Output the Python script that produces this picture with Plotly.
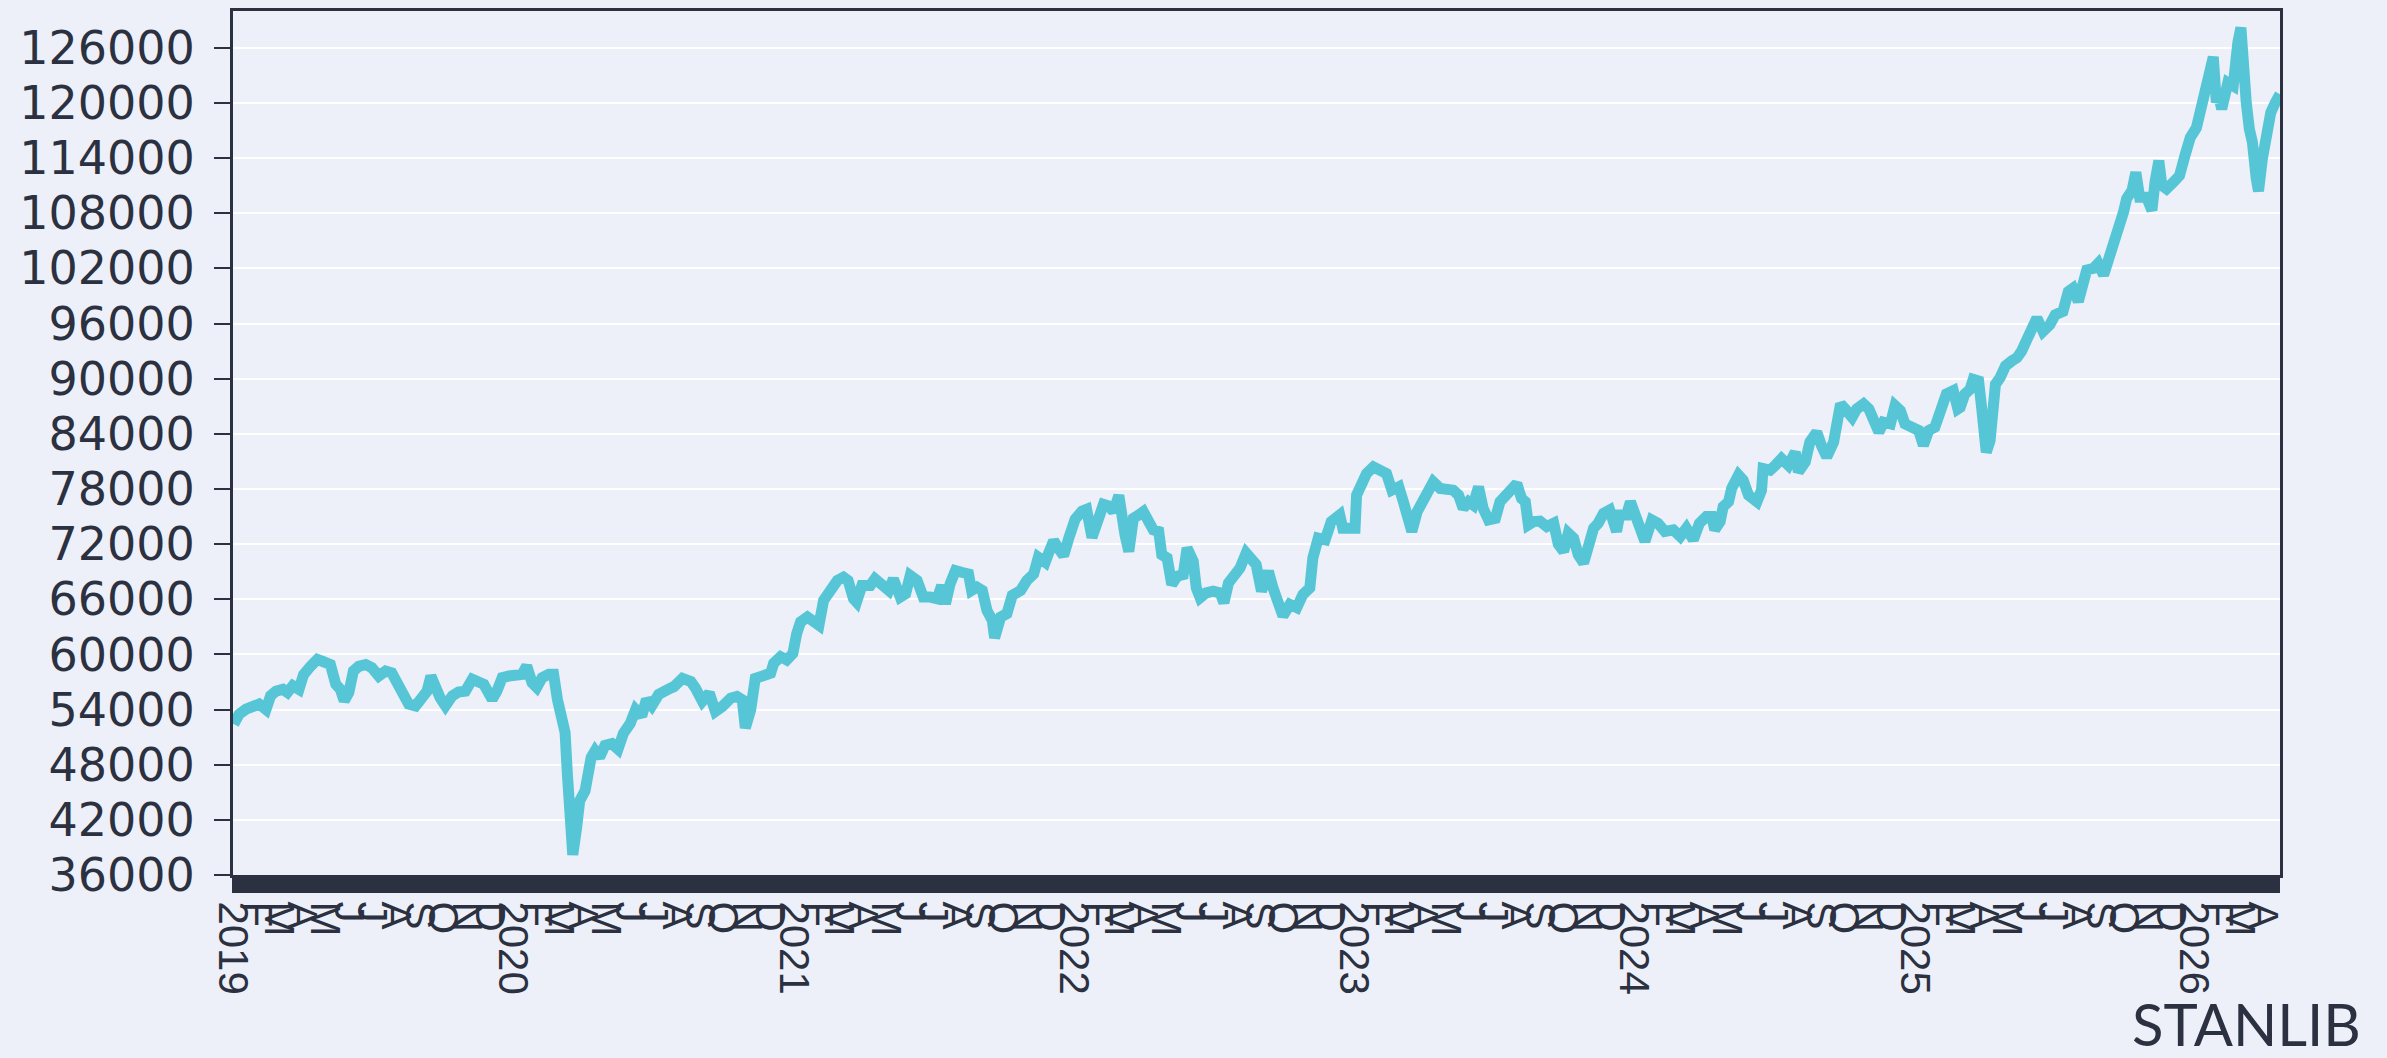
import plotly.graph_objects as go

# ---------------- data ----------------
dates_2019 = ["2019-01-02", "2019-01-09", "2019-01-18", "2019-01-26", "2019-02-04", "2019-02-13",
              "2019-02-19", "2019-02-26", "2019-03-07", "2019-03-13", "2019-03-20", "2019-03-28",
              "2019-04-03", "2019-04-12", "2019-04-21", "2019-04-29", "2019-05-08", "2019-05-15",
              "2019-05-21", "2019-05-26", "2019-06-01", "2019-06-07", "2019-06-14", "2019-06-23",
              "2019-07-01", "2019-07-10", "2019-07-19", "2019-07-27", "2019-08-03", "2019-08-09",
              "2019-08-18", "2019-08-27", "2019-09-04", "2019-09-11", "2019-09-16", "2019-09-22",
              "2019-09-28", "2019-10-05", "2019-10-14", "2019-10-22", "2019-10-31", "2019-11-09",
              "2019-11-17", "2019-11-24", "2019-11-30", "2019-12-05", "2019-12-11", "2019-12-18",
              "2019-12-27"]
values_2019 = [52400, 53500, 54040, 54400, 54600, 54000,
               55500, 56000, 56200, 55850, 56600, 56200,
               57800, 58700, 59450, 59200, 58900, 56750,
               56200, 54950, 55850, 58200, 58700, 58900,
               58550, 57650, 58200, 58000, 56750, 55500,
               54600, 54400, 55100, 56000, 57650, 56200,
               55300, 54400, 55500, 55900, 56000, 57300,
               56900, 56750, 55850, 55100, 56000, 57470,
               57650]

dates_2020 = ["2020-01-05", "2020-01-13", "2020-01-19", "2020-01-26", "2020-02-01", "2020-02-08",
              "2020-02-17", "2020-02-23", "2020-02-28", "2020-03-05", "2020-03-09", "2020-03-12",
              "2020-03-15", "2020-03-19", "2020-03-24", "2020-03-28", "2020-04-04", "2020-04-08",
              "2020-04-12", "2020-04-17", "2020-04-23", "2020-04-30", "2020-05-09", "2020-05-17",
              "2020-05-24", "2020-06-02", "2020-06-09", "2020-06-17", "2020-06-23", "2020-06-30",
              "2020-07-09", "2020-07-20", "2020-07-29", "2020-08-09", "2020-08-20", "2020-08-26",
              "2020-09-04", "2020-09-13", "2020-09-21", "2020-09-30", "2020-10-11", "2020-10-19",
              "2020-10-26", "2020-10-30", "2020-11-06", "2020-11-12", "2020-11-23", "2020-12-02",
              "2020-12-06", "2020-12-15", "2020-12-23", "2020-12-31"]
values_2020 = [57650, 57830, 58740, 56900, 56400, 57470,
               57830, 57830, 55100, 52900, 51500, 46970,
               42600, 38200, 41140, 44050, 45150, 47340,
               48800, 49500, 48800, 50100, 50300, 49700,
               51400, 52500, 54000, 53300, 55100, 54400,
               55650, 56140, 56500, 57400, 57050, 56330,
               54900, 55800, 53800, 54340, 55240, 55420,
               55060, 52000, 53980, 57400, 57770, 57950,
               59030, 59750, 59390, 60100]

dates_2021 = ["2021-01-05", "2021-01-10", "2021-01-19", "2021-01-27", "2021-02-03", "2021-02-09",
              "2021-02-18", "2021-02-27", "2021-03-07", "2021-03-13", "2021-03-20", "2021-03-24",
              "2021-03-31", "2021-04-11", "2021-04-17", "2021-04-26", "2021-05-05", "2021-05-11",
              "2021-05-20", "2021-05-27", "2021-06-02", "2021-06-11", "2021-06-19", "2021-06-28",
              "2021-07-07", "2021-07-13", "2021-07-18", "2021-07-24", "2021-07-31", "2021-08-08",
              "2021-08-17", "2021-08-21", "2021-08-28", "2021-09-04", "2021-09-10", "2021-09-17",
              "2021-09-20", "2021-09-28", "2021-10-06", "2021-10-13", "2021-10-24", "2021-11-01",
              "2021-11-10", "2021-11-16", "2021-11-25", "2021-11-29", "2021-12-06", "2021-12-13",
              "2021-12-19", "2021-12-26"]
values_2021 = [62270, 63530, 64070, 63530, 63170, 65870,
               66960, 68040, 68400, 68040, 66060, 65700,
               67500, 67500, 68220, 67500, 66960, 68220,
               66240, 66600, 68580, 68040, 66240, 66240,
               66060, 67500, 65510, 67680, 69120, 68940,
               68760, 66960, 67320, 66960, 64800, 63710,
               61800, 64070, 64430, 66420, 66960, 68040,
               68760, 70560, 70020, 70920, 72360, 71460,
               70740, 72720]

dates_2022 = ["2022-01-03", "2022-01-12", "2022-01-18", "2022-01-25", "2022-01-31", "2022-02-09",
              "2022-02-16", "2022-02-22", "2022-03-01", "2022-03-05", "2022-03-09", "2022-03-14",
              "2022-03-20", "2022-03-27", "2022-04-02", "2022-04-09", "2022-04-15", "2022-04-22",
              "2022-04-26", "2022-05-03", "2022-05-09", "2022-05-16", "2022-05-24", "2022-05-29",
              "2022-06-06", "2022-06-10", "2022-06-15", "2022-06-23", "2022-07-02", "2022-07-11",
              "2022-07-16", "2022-07-22", "2022-07-28", "2022-08-06", "2022-08-14", "2022-08-21",
              "2022-08-27", "2022-09-03", "2022-09-12", "2022-09-18", "2022-09-25", "2022-10-01",
              "2022-10-10", "2022-10-19", "2022-10-27", "2022-11-05", "2022-11-09", "2022-11-16",
              "2022-11-25", "2022-12-03", "2022-12-14", "2022-12-18", "2022-12-27"]
values_2022 = [74700, 75600, 75790, 72720, 74520, 76330,
               76150, 75530, 77300, 73730, 73010, 71200,
               74810, 75170, 75530, 74450, 73550, 73370,
               70850, 70490, 67600, 68500, 68680, 71570,
               70130, 67240, 66160, 66700, 66880, 66700,
               65620, 67780, 68500, 69400, 71030, 70490,
               69770, 66880, 69040, 67240, 65080, 64180,
               65440, 65080, 66520, 67240, 70490, 72650,
               72470, 74450, 75170, 73730, 73730]

dates_2023 = ["2023-01-03", "2023-01-05", "2023-01-12", "2023-01-18", "2023-01-27", "2023-02-05",
              "2023-02-13", "2023-02-20", "2023-03-01", "2023-03-07", "2023-03-14", "2023-03-18",
              "2023-03-25", "2023-03-31", "2023-04-09", "2023-04-15", "2023-04-24", "2023-05-03",
              "2023-05-11", "2023-05-18", "2023-05-24", "2023-05-31", "2023-06-06", "2023-06-13",
              "2023-06-19", "2023-06-26", "2023-07-05", "2023-07-11", "2023-07-18", "2023-07-26",
              "2023-08-02", "2023-08-08", "2023-08-13", "2023-08-17", "2023-08-24", "2023-09-01",
              "2023-09-10", "2023-09-19", "2023-09-25", "2023-10-02", "2023-10-08", "2023-10-15",
              "2023-10-21", "2023-10-28", "2023-11-03", "2023-11-10", "2023-11-16", "2023-11-23",
              "2023-12-01", "2023-12-10", "2023-12-14", "2023-12-23", "2023-12-28"]
values_2023 = [73730, 77330, 78770, 79680, 80400, 80040,
               79680, 77870, 78230, 76610, 74090, 73370,
               75530, 76610, 77870, 78770, 78050, 78050,
               77870, 77330, 75890, 76610, 76250, 78230,
               75890, 74630, 74810, 76610, 77150, 77690,
               78590, 76970, 76610, 74090, 74450, 74500,
               73910, 74270, 72000, 71210, 73190, 72650,
               70850, 69950, 71570, 73730, 74270, 75350,
               75710, 73370, 75170, 75170, 76610]

dates_2024 = ["2024-01-05", "2024-01-12", "2024-01-16", "2024-01-25", "2024-02-02", "2024-02-11",
              "2024-02-22", "2024-03-02", "2024-03-10", "2024-03-19", "2024-03-27", "2024-04-05",
              "2024-04-12", "2024-04-16", "2024-04-23", "2024-04-27", "2024-05-04", "2024-05-08",
              "2024-05-17", "2024-05-23", "2024-05-30", "2024-06-10", "2024-06-16", "2024-06-18",
              "2024-06-27", "2024-07-04", "2024-07-12", "2024-07-21", "2024-07-30", "2024-08-03",
              "2024-08-12", "2024-08-18", "2024-08-27", "2024-09-02", "2024-09-09", "2024-09-18",
              "2024-09-22", "2024-09-27", "2024-10-03", "2024-10-12", "2024-10-18", "2024-10-27",
              "2024-11-03", "2024-11-09", "2024-11-16", "2024-11-22", "2024-12-01", "2024-12-07",
              "2024-12-14", "2024-12-20", "2024-12-29"]
values_2024 = [74810, 73910, 72290, 74630, 74270, 73370,
               73550, 72830, 73730, 72470, 74270, 74990,
               74990, 73550, 74450, 76070, 76610, 78050,
               79500, 78950, 77330, 76610, 77870, 80210,
               80040, 80580, 81300, 80580, 82020, 79860,
               80940, 83100, 84180, 82740, 81480, 83100,
               84540, 87250, 86700, 85800, 86700, 87250,
               86700, 85080, 84180, 85260, 85080, 87070,
               86520, 85080, 84540]

dates_2025 = ["2025-01-07", "2025-01-13", "2025-01-20", "2025-01-28", "2025-02-04", "2025-02-12",
              "2025-02-21", "2025-02-27", "2025-03-02", "2025-03-08", "2025-03-15", "2025-03-19",
              "2025-03-26", "2025-03-30", "2025-04-05", "2025-04-10", "2025-04-17", "2025-04-23",
              "2025-04-30", "2025-05-08", "2025-05-15", "2025-05-21", "2025-05-28", "2025-06-03",
              "2025-06-10", "2025-06-18", "2025-06-27", "2025-07-04", "2025-07-14", "2025-07-21",
              "2025-07-27", "2025-08-03", "2025-08-09", "2025-08-14", "2025-08-23", "2025-08-29",
              "2025-09-05", "2025-09-11", "2025-09-15", "2025-09-22", "2025-09-26", "2025-10-01",
              "2025-10-05", "2025-10-12", "2025-10-17", "2025-10-22", "2025-10-31", "2025-11-07",
              "2025-11-11", "2025-11-16", "2025-11-20", "2025-11-26", "2025-12-05", "2025-12-13",
              "2025-12-20", "2025-12-27"]
values_2025 = [84360, 82740, 84360, 84720, 86700, 88330,
               88690, 86700, 86860, 88310, 88850, 89930,
               89750, 86860, 82000, 83260, 89390, 90110,
               91370, 91910, 92270, 92990, 94250, 95690,
               96600, 95150, 95870, 96960, 97320, 99480,
               99840, 98400, 100560, 101820, 102000, 102540,
               101280, 102720, 104520, 105600, 106690, 108130,
               109570, 110470, 112450, 109750, 109750, 108310,
               111370, 113710, 111010, 110650, 111370, 112090,
               114250, 116240]

dates_2026 = ["2026-01-04", "2026-01-09", "2026-01-15", "2026-01-22", "2026-01-26", "2026-01-30",
              "2026-02-02", "2026-02-06", "2026-02-10", "2026-02-14", "2026-02-21", "2026-02-23",
              "2026-02-27", "2026-03-03", "2026-03-06", "2026-03-10", "2026-03-14", "2026-03-18",
              "2026-03-23", "2026-03-26", "2026-03-31", "2026-04-04", "2026-04-11", "2026-04-17",
              "2026-04-23"]
values_2026 = [117300, 119000, 120500, 122500, 125000, 120050,
               120770, 119330, 120770, 122200, 121850, 124730,
               126530, 128200, 121130, 120050, 117170, 115730,
               111770, 110400, 113930, 116090, 118970, 120050,
               120950]

dates = (dates_2019 + dates_2020 + dates_2021 + dates_2022 +
         dates_2023 + dates_2024 + dates_2025 + dates_2026)
values = (values_2019 + values_2020 + values_2021 + values_2022 +
          values_2023 + values_2024 + values_2025 + values_2026)

# tick labels
month_letters = ["J", "F", "M", "A", "M", "J", "J", "A", "S", "O", "N", "D"]
tick_years = [2019, 2020, 2021, 2022, 2023, 2024, 2025, 2026]
last_month_2026 = 4

tickvals, ticktext = [], []
for yr in tick_years:
    for m in range(1, 13):
        if yr == 2026 and m > last_month_2026:
            break
        tickvals.append(f"{yr}-{m:02d}-01")
        ticktext.append(str(yr) if m == 1 else month_letters[m - 1])

# ---------------- styling ----------------
BG = "#EDF0F8"
TXT = "#2B3140"
LINE = "#56C6D6"

fig = go.Figure(
    go.Scatter(x=dates, y=values, mode="lines",
               line=dict(color=LINE, width=11), name="Index")
)

fig.update_layout(
    width=2387, height=1058,
    margin=dict(l=233, r=107, t=8, b=183, pad=0),
    paper_bgcolor=BG, plot_bgcolor=BG,
    showlegend=False,
    font=dict(family="Liberation Sans, Arial, sans-serif", color=TXT),
)

fig.update_xaxes(
    type="date", range=["2019-01-01", "2026-04-23"],
    tickmode="array", tickvals=tickvals, ticktext=ticktext,
    tickangle=90,
    ticks="outside", ticklen=15, tickwidth=1, tickcolor=TXT,
    tickfont=dict(family="Liberation Sans, Arial", size=42, color=TXT),
    minor=dict(ticks="outside", ticklen=15, tickwidth=2, tickcolor=TXT,
               tickmode="linear", tick0="2019-01-01", dtick=2 * 86400000,
               showgrid=False),
    showgrid=False, zeroline=False,
    showline=True, linecolor=TXT, linewidth=3, mirror=True,
)

fig.update_yaxes(
    range=[36000, 130000],
    tickmode="linear", tick0=36000, dtick=6000, tickformat="d",
    ticks="outside", ticklen=16, tickwidth=2, tickcolor=TXT,
    tickfont=dict(family="DejaVu Sans", size=46, color=TXT),
    ticklabelstandoff=10,
    showgrid=True, gridcolor="white", gridwidth=2,
    zeroline=False,
    showline=True, linecolor=TXT, linewidth=3, mirror=True,
)

fig.add_annotation(
    text="STANLIB", xref="paper", yref="paper",
    x=1.0405, y=-0.172, xanchor="right", yanchor="middle",
    showarrow=False,
    font=dict(family="Lato", size=58, color=TXT),
)

fig.write_html("out.html",
               config={"displayModeBar": False},
               post_script="document.body.style.margin='0px';")
